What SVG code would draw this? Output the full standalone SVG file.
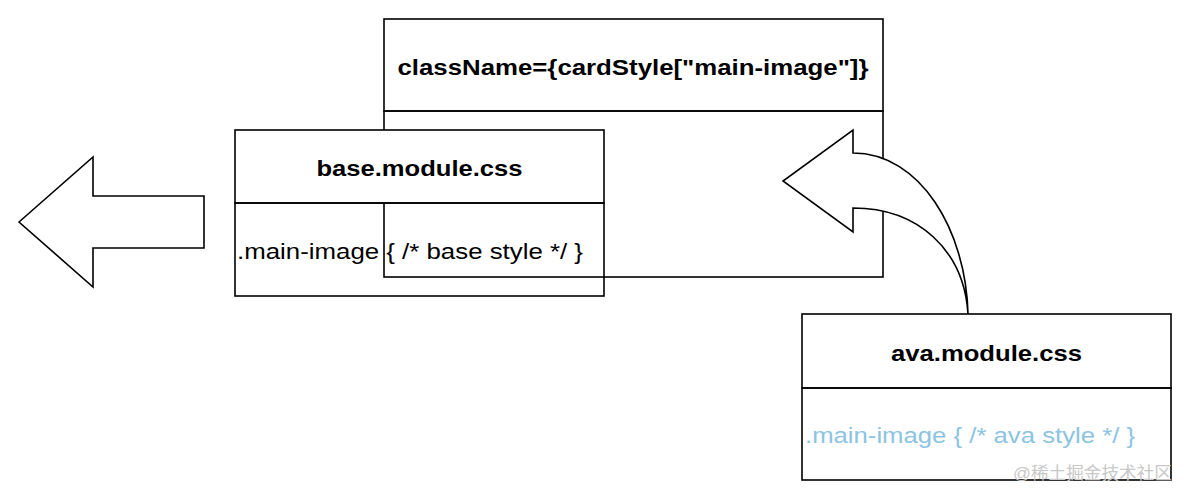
<svg xmlns="http://www.w3.org/2000/svg" width="1190" height="500" viewBox="0 0 1190 500">
<style>
.box{fill:none;stroke:#000;stroke-width:1.6}
.hdr{fill:#fff;stroke:#000;stroke-width:1.6}
.shape{fill:#fff;stroke:#000;stroke-width:1.6;stroke-linejoin:miter}
.title{font-family:"Liberation Sans",Arial,sans-serif;font-size:22px;font-weight:bold;fill:#000;text-anchor:middle}
.body{font-family:"Liberation Sans",Arial,sans-serif;font-size:22px;fill:#000}
</style>
<rect width="1190" height="500" fill="#fff"/>
<g id="card">
<rect class="hdr" x="384" y="19" width="499" height="92"/>
<rect class="box" x="384" y="111" width="499" height="166"/>
<text class="title" x="633" y="75" textLength="471" lengthAdjust="spacingAndGlyphs">className={cardStyle["main-image"]}</text>
</g>
<g id="base">
<rect class="hdr" x="235" y="130" width="369" height="73"/>
<rect class="box" x="235" y="203" width="369" height="93"/>
<text class="title" x="419.5" y="176" textLength="206" lengthAdjust="spacingAndGlyphs">base.module.css</text>
<text class="body" x="237" y="259" textLength="346" lengthAdjust="spacingAndGlyphs">.main-image { /* base style */ }</text>
</g>
<g id="connectors">
<polygon class="shape" points="19,222 93,157 93,196 204,196 204,248 93,248 93,287"/>
<path class="shape" d="M853,153 L853,130 L783,181 L853,232 L853,208 C918,208 964,250 968,314 C966,230 920,153 853,153 Z"/>
</g>
<g id="ava">
<rect class="hdr" x="802" y="314" width="369" height="74"/>
<rect class="box" x="802" y="388" width="369" height="92"/>
<text class="title" x="986.5" y="361" textLength="191" lengthAdjust="spacingAndGlyphs">ava.module.css</text>
<text class="body" x="805" y="443" textLength="330" lengthAdjust="spacingAndGlyphs" style="fill:#8cc4e2">.main-image { /* ava style */ }</text>
</g>
<text x="1013" y="479" textLength="159" lengthAdjust="spacingAndGlyphs" style="font-family:'Liberation Sans','Noto Sans CJK SC',sans-serif;font-size:17px;fill:#c8c8c8">@稀土掘金技术社区</text>
</svg>
